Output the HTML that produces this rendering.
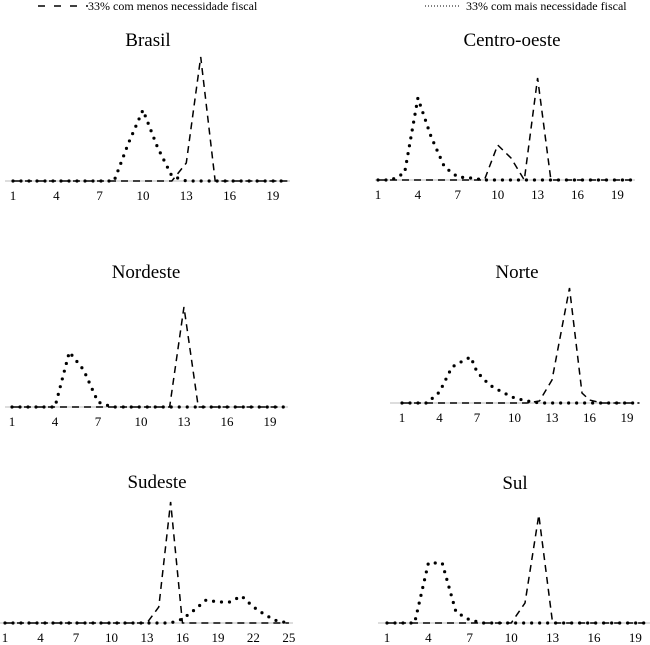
<!DOCTYPE html>
<html><head><meta charset="utf-8"><style>
body{margin:0;background:#fff;}
svg{display:block;font-family:"Liberation Serif",serif;}
</style></head><body>
<svg id="c" width="650" height="645">
<g>
<line x1="38" y1="6" x2="88" y2="6" stroke="#000" stroke-width="1.5" stroke-dasharray="7,9"/>
<text x="88" y="10" font-size="12">33% com menos necessidade fiscal</text>
<line x1="425" y1="6" x2="460" y2="6" stroke="#000" stroke-width="1" stroke-dasharray="1,2"/>
<text x="466" y="10" font-size="12">33% com mais necessidade fiscal</text>
</g>
</svg>
<script>
// Panel data (heights are density values in arbitrary units)
const brasilX=[1,2,3,4,5,6,7,8,9,10,11,12,13,14,15,16,17,18,19,20];
const brasilMenos=[0,0,0,0,0,0,0,0,0,0,0,0,18,124,0,0,0,0,0,0];
const brasilMais=[0,0,0,0,0,0,0,0,38,71,34,5,0,0,0,0,0,0,0,0];
const coX=[1,2,3,4,5,6,7,8,9,10,11,12,13,14,15,16,17,18,19,20];
const coMenos=[0,0,0,0,0,0,0,0,0,35,22,0,102,0,0,0,0,0,0,0];
const coMais=[0,0,7,82,43,13,3,2,0,0,0,0,0,0,0,0,0,0,0,0];
const neX=[1,2,3,4,5,6,7,8,9,10,11,12,13,14,15,16,17,18,19,20];
const neMenos=[0,0,0,0,0,0,0,0,0,0,0,0,100,0,0,0,0,0,0,0];
const neMais=[0,0,0,0,55,37,5,0,0,0,0,0,0,0,0,0,0,0,0,0];
const noX=[1,2,3,4,5,6,6.5,7,8,9,10,11,12,13,14.4,15.4,16,17,18,19,20];
const noMenos=[0,0,0,0,0,0,0,0,0,0,0,0,2,23,115,10,3,0,0,0,0];
const noMais=[0,0,0,11,36,43,46,31,18,11,5,2,0,0,0,0,0,0,0,0,0];
const seX=[1,2,3,4,5,6,7,8,9,10,11,12,13,14,15,16,17,18,19,20,21,22,23,24,25];
const seMenos=[0,0,0,0,0,0,0,0,0,0,0,0,0,16,121,0,0,0,0,0,0,0,0,0,0];
const seMais=[0,0,0,0,0,0,0,0,0,0,0,0,0,0,0,4,13,23,21,21,27,16,8,2,0];
const sulX=[1,2,3,4,5,6,7,8,9,10,11,12,13,14,15,16,17,18,19,20];
const sulMenos=[0,0,0,0,0,0,0,0,0,0,20,108,0,0,0,0,0,0,0,0];
const sulMais=[0,0,0,60,60,11,3,0,0,0,0,0,0,0,0,0,0,0,0,0];
const ticksA=[1,4,7,10,13,16,19];
const ticksSE=[1,4,7,10,13,16,19,22,25];

const panels=[
 {name:"brasil",title:"Brasil",tx:148,ty:46,base:181,x0:13,unit:14.44,l:5,r:290,xs:brasilX,a:brasilMenos,b:brasilMais,ticks:ticksA},
 {name:"centro-oeste",title:"Centro-oeste",tx:512,ty:46,base:180,x0:378,unit:13.3,l:375,r:635,xs:coX,a:coMenos,b:coMais,ticks:ticksA},
 {name:"nordeste",title:"Nordeste",tx:146,ty:278,base:407,x0:12,unit:14.33,l:5,r:288,xs:neX,a:neMenos,b:neMais,ticks:ticksA},
 {name:"norte",title:"Norte",tx:517,ty:278,base:403,x0:402,unit:12.5,l:390,r:632,xs:noX,a:noMenos,b:noMais,ticks:ticksA},
 {name:"sudeste",title:"Sudeste",tx:157,ty:488,base:623,x0:5,unit:11.83,l:0,r:293,xs:seX,a:seMenos,b:seMais,ticks:ticksSE},
 {name:"sul",title:"Sul",tx:515,ty:489,base:623,x0:387,unit:13.8,l:378,r:650,xs:sulX,a:sulMenos,b:sulMais,ticks:ticksA}
];
const NS="http://www.w3.org/2000/svg";
const svg=document.getElementById('c');
function mk(t,at,p){const e=document.createElementNS(NS,t);for(const k in at)e.setAttribute(k,at[k]);p.appendChild(e);return e;}
panels.forEach(p=>{
 const X=v=>p.x0+(v-1)*p.unit, Y=v=>p.base-v;
 const g=mk('g',{},svg);
 
 
 const t=mk('text',{x:p.tx,y:p.ty,'font-size':19,'text-anchor':'middle'},g);t.textContent=p.title;
 
 
 const ax=mk('line',{x1:p.l,x2:p.r,y1:p.base,y2:p.base,stroke:'#bbb','stroke-width':1},g);
 
 
 p.ticks.forEach(v=>{
  const tl=mk('text',{x:X(v),y:p.base+19,'font-size':13,'text-anchor':'middle'},g);tl.textContent=v;
  
  
 });
 const pa=p.xs.map((x,i)=>X(x)+','+Y(p.a[i])).join(' ');
 const l1=mk('polyline',{points:pa,fill:'none',stroke:'#000','stroke-width':1.5,'stroke-dasharray':'7,5'},g);
 
 
 const pb=p.xs.map((x,i)=>X(x)+','+Y(p.b[i])).join(' ');
 const l2=mk('polyline',{points:pb,fill:'none',stroke:'#000','stroke-width':3.2,'stroke-dasharray':'0,8','stroke-linecap':'round'},g);
 
 
});
</script>
</body></html>
